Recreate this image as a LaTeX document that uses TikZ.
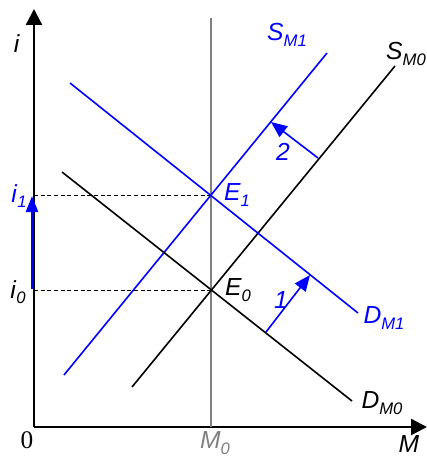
\documentclass[tikz,border=0pt]{standalone}
\usepackage{fontspec}
\setmainfont{Liberation Sans}
\newfontfamily\serifzero{Liberation Serif}
\usetikzlibrary{arrows.meta}
\definecolor{myblue}{RGB}{0,0,255}
\definecolor{mygray}{RGB}{128,128,128}
\newcommand{\sublab}[2]{\textit{#1}\raisebox{-4pt}{\fontsize{12.5}{13}\selectfont\textit{#2}}}
\begin{document}
\begin{tikzpicture}[x=0.75pt,y=-0.75pt,
  axisline/.style={line width=1.8pt},
  curveline/.style={line width=1.2pt},
  lab/.style={font=\fontsize{18.5}{20}\selectfont, inner sep=0pt},
  shiftarrow/.style={line width=1.2pt, myblue, -{Triangle[length=12pt,width=10pt]}},
  guide/.style={dashed, line width=0.6pt, dash pattern=on 3pt off 2pt}]
\useasboundingbox (0,0) rectangle (426,456);
% axes
\coordinate (O) at (34,427);
\coordinate (Ytop) at (34,9);
\coordinate (Xend) at (427,427);
\draw[axisline, -{Triangle[length=12pt,width=12pt]}] (O) -- (Ytop);
\draw[axisline, -{Triangle[length=12pt,width=12pt]}] (O) -- (Xend);
% M0 vertical
\coordinate (M0top) at (211,18);
\coordinate (M0bot) at (211,427);
\draw[mygray, line width=1.2pt] (M0bot) -- (M0top);
% equilibrium points
\coordinate (E1) at (211,195);
\coordinate (E0) at (211,290);
\coordinate (I1) at (34,195);
\coordinate (I0) at (34,290);
\draw[guide] (I1) -- (E1);
\draw[guide] (I0) -- (E0);
% curves
\coordinate (SM0a) at (132,387);
\coordinate (SM0b) at (395,66);
\coordinate (SM1a) at (64,375);
\coordinate (SM1b) at (327,53);
\coordinate (DM0a) at (62,172);
\coordinate (DM0b) at (352,401);
\coordinate (DM1a) at (70,83);
\coordinate (DM1b) at (358,313);
\draw[curveline] (SM0a) -- (SM0b);
\draw[curveline, myblue] (SM1a) -- (SM1b);
\draw[curveline] (DM0a) -- (DM0b);
\draw[curveline, myblue] (DM1a) -- (DM1b);
% shift arrows
\coordinate (A1s) at (266,332);
\coordinate (A1e) at (310,275);
\coordinate (A2s) at (318,158);
\coordinate (A2e) at (271,122);
\draw[shiftarrow] (A1s) -- (A1e);
\draw[shiftarrow] (A2s) -- (A2e);
\coordinate (Bi0) at (32,289);
\coordinate (Bi1) at (32,196);
\draw[line width=2pt, myblue, -{Triangle[length=12pt,width=9pt]}] (Bi0) -- (Bi1);
% labels
\node[lab] (li) at (17,44) {\textit{i}};
\node[lab, myblue] (li1) at (19,196) {\sublab{i}{1}};
\node[lab] (li0) at (18,292) {\sublab{i}{0}};
\node[lab, font=\fontsize{19}{20}\selectfont\serifzero] (l0) at (27,440) {0};
\node[lab, mygray] (lM0) at (215,443) {\sublab{M}{0}};
\node[lab] (lM) at (409,444) {\textit{M}};
\node[lab, myblue] (lSM1) at (287,35) {\sublab{S}{M1}};
\node[lab] (lSM0) at (406,54) {\sublab{S}{M0}};
\node[lab, myblue] (lE1) at (237,195) {\sublab{E}{1}};
\node[lab] (lE0) at (238,290) {\sublab{E}{0}};
\node[lab, myblue] (lDM1) at (384,318) {\sublab{D}{M1}};
\node[lab] (lDM0) at (382,403) {\sublab{D}{M0}};
\node[lab, myblue] (l1) at (281,300) {\textit{1}};
\node[lab, myblue] (l2) at (283,152) {\textit{2}};
\end{tikzpicture}
\end{document}
